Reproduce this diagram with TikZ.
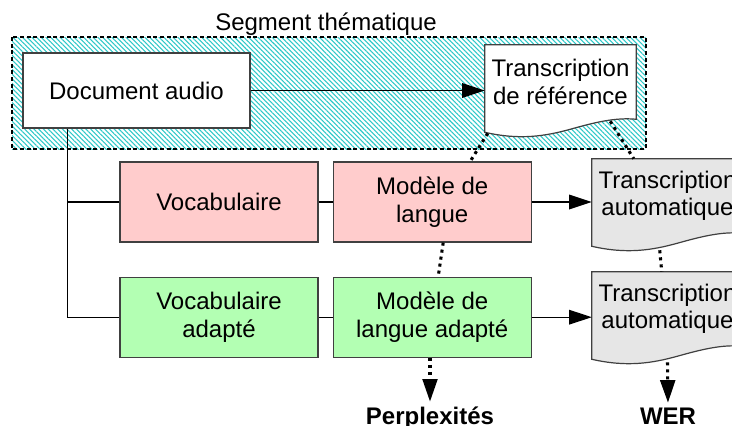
\documentclass[tikz,border=0pt]{standalone}
\usepackage{fontspec}
\setmainfont{Liberation Sans}
\usetikzlibrary{arrows.meta, positioning, calc, patterns.meta, backgrounds}

\definecolor{pinkbox}{HTML}{FFCCCC}
\definecolor{greenbox}{HTML}{B3FFB3}
\definecolor{greydoc}{HTML}{E6E6E6}
\definecolor{hatch}{HTML}{2EC8C8}
\definecolor{edge}{HTML}{404040}

% document shape: box with a wavy bottom hanging under the node
\newcommand{\docshape}[2]{%
	\filldraw[fill=#2, draw=edge, line width=0.9pt] (#1.north west) -- (#1.north east) -- (#1.south east)
		.. controls ($(#1.south east)+(-21,-2)$) and ($(#1.south east)+(-41,3)$) .. ($(#1.south east)+(-66,10)$)
		.. controls ($(#1.south west)+(60,17)$) and ($(#1.south west)+(35,21)$) .. ($(#1.south west)+(0,13)$)
		-- cycle;
}

\begin{document}
\begin{tikzpicture} [
	x=0.75pt, y=-0.75pt, % one unit is one pixel, y goes down
	font=\fontsize{18}{20.5}\selectfont,
	>={Triangle[length=17pt, width=11pt]}, % big filled heads
	node distance=10.5pt, % gap between the boxes of a row
	box/.style={draw=edge, line width=0.9pt, minimum width=148.5pt, minimum height=60pt, align=center, inner sep=0pt},
	vocab/.style={box, fill=pinkbox},
	adapted/.style={box, fill=greenbox},
	doc/.style={minimum width=113.25pt, minimum height=55.5pt, align=center, inner sep=0pt},
	link/.style={draw=black, line width=0.9pt},
	dotline/.style={line width=2.3pt, dash pattern=on 2.3pt off 3pt},
	result/.style={font=\fontsize{18}{20.5}\selectfont\bfseries, anchor=base},
	]
	\useasboundingbox (0,0) rectangle (732,425);

	\node[anchor=base] (seglabel) at (326,30) {Segment thématique};
	\node[box, fill=white, minimum width=170.25pt, minimum height=56.25pt] (audio) at (136.5,90.5) {Document audio};
	\node[doc] (tref) at (560.5,82) {Transcription\\de référence};

	\node[vocab] (voc) at (219,202) {Vocabulaire};
	\node[vocab, right=of voc] (mlang) {Modèle de\\langue};
	\node[doc] (ta1) at (667.5,196) {Transcription\\automatique};

	\node[adapted, below=25.5pt of voc] (vocad) {Vocabulaire\\adapté};
	\node[adapted, right=of vocad] (mlangad) {Modèle de\\langue adapté};
	\node[doc] (ta2) at (667.5,309) {Transcription\\automatique};

	\node[result] (perp) at (430,424) {Perplexités};
	\node[result] (wer) at (668,424) {WER};

	\begin{scope}[on background layer]
		\draw[pattern={Lines[angle=-45, distance=2.5pt, line width=0.8pt]}, pattern color=hatch,
			dash pattern=on 3pt off 2pt, line width=1.1pt] (12,37) rectangle (646,149);
		\docshape{tref}{white}
		\docshape{ta1}{greydoc}
		\docshape{ta2}{greydoc}
	\end{scope}

	\coordinate (trunk) at ($(audio.south west)+(45,0)$);
	\draw[link] (trunk) |- (vocad.west);
	\draw[link] (voc.west) -- (voc.west -| trunk);
	\draw[link] (voc.east) -- (mlang.west);
	\draw[link] (vocad.east) -- (mlangad.west);
	\draw[link, ->] (audio.east) -- (audio.east -| tref.west);
	\draw[link, ->] (mlang.east) -- (mlang.east -| ta1.west);
	\draw[link, ->] (mlangad.east) -- (mlangad.east -| ta2.west);

	\draw[dotline] ($(tref.south west)+(3,14)$) -- ($(mlang.north)+(38,0)$);
	\draw[dotline] ($(tref.south east)+(-26,2)$) -- ($(ta1.north west)+(42,0)$);
	\draw[dotline] ($(mlang.south)+(11,0)$) -- ($(mlangad.north)+(6,0)$);
	\draw[dotline] ($(ta1.south west)+(68,17)$) -- ($(ta2.north west)+(70,0)$);
	\draw[dotline, ->] (mlangad.south -| perp.north) -- (perp.north);
	\draw[dotline, ->] ($(ta2.south)+(0,16)$) -- (wer.north);
\end{tikzpicture}
\end{document}
